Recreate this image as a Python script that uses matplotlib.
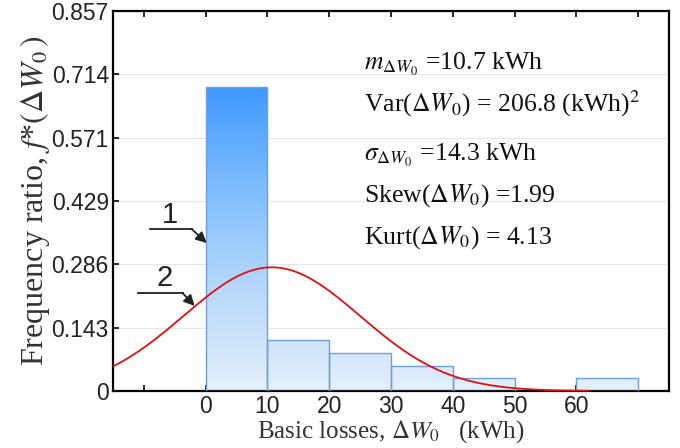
import numpy as np
import matplotlib
matplotlib.use("Agg")
import matplotlib.pyplot as plt
from matplotlib.colors import LinearSegmentedColormap

plt.rcParams['mathtext.fontset'] = 'stix'

# histogram data (bins of 10 kWh), frequency ratios
bin_left = [0, 10, 20, 30, 40, 50, 60]
freq = [0.686, 0.114, 0.086, 0.057, 0.029, 0.0, 0.029]
bin_w = 10

# fitted normal: mean and std dev from the stats block
m_dw = 10.7
sigma_dw = 14.3

yticks = [0, 0.143, 0.286, 0.429, 0.571, 0.714, 0.857]
ytick_lbl = ['0', '0.143', '0.286', '0.429', '0.571', '0.714', '0.857']
xticks = [-10, 0, 10, 20, 30, 40, 50, 60, 70]
xtick_lbl = ['', '0', '10', '20', '30', '40', '50', '60', '']

fig = plt.figure(figsize=(6.8, 4.48), dpi=100)
ax = fig.add_axes([113/680, 1 - 391/448, (669-113)/680, (391-11)/448])

cmap = LinearSegmentedColormap.from_list('bl', ['#e4f0fc', '#b6d8fb', '#7cbcff', '#3a95ff'])
grad = np.linspace(0, 1, 256).reshape(-1, 1)

for xl, h in zip(bin_left, freq):
    if h <= 0:
        continue
    rect = plt.Rectangle((xl, 0), bin_w, h, facecolor='none', edgecolor='#6f9fd6', lw=1.0, zorder=3)
    ax.add_patch(rect)
    im = ax.imshow(grad, extent=[-15, 75, 0, 0.7], origin='lower', cmap=cmap,
                   aspect='auto', zorder=2)
    im.set_clip_path(rect)

ax.set_xlim(-15, 75)
ax.set_ylim(0, 0.857)

xs = np.linspace(-15, 62, 300)
pdf = bin_w / (sigma_dw * np.sqrt(2 * np.pi)) * np.exp(-0.5 * ((xs - m_dw) / sigma_dw) ** 2)
ax.plot(xs, pdf, color='#e01010', lw=1.3, zorder=4)

ax.set_yticks(yticks)
ax.set_yticklabels(ytick_lbl)
ax.set_xticks(xticks)
ax.set_xticklabels(xtick_lbl)
ax.grid(axis='y', color='#e6e6e6', lw=0.8, zorder=0)
ax.set_axisbelow(True)
ax.tick_params(direction='in', top=True, right=False, length=4, width=1.2,
               labelsize=16.5, labelcolor='#222222', pad=3)
for lb in ax.get_xticklabels() + ax.get_yticklabels():
    lb.set_family('Liberation Sans')
for s in ax.spines.values():
    s.set_linewidth(1.6)

ax.set_xlabel(r'Basic losses, $\Delta W_0$   (kWh)', family='Liberation Serif',
              fontsize=18, color='#333333', labelpad=0)
ax.set_ylabel(r'Frequency ratio, $f$*$(\Delta W_0\,)$', family='Liberation Serif',
              fontsize=23, color='#333333', labelpad=0)

# statistics block
stats = [r'$m_{\Delta W_0}$ =10.7 kWh',
         r'Var($\Delta W_0$) = 206.8 (kWh)$^2$',
         r'$\sigma_{\Delta W_0}$ =14.3 kWh',
         r'Skew($\Delta W_0$) =1.99',
         r'Kurt($\Delta W_0$) = 4.13']
stat_y = [64, 104, 155, 196, 238]
for t, py in zip(stats, stat_y):
    fig.text(364/680, 1 - py/448, t, family='Liberation Serif', fontsize=18.5,
             va='center', ha='left', color='#111111')

# curve labels with leader arrows
def px(x, y):
    return ((x - 206) / 6.15, (391 - y) / 380 * 0.857)

for lab, tx, ty, x0, x1, yl, ex, ey in [('1', 170, 215, 151, 192, 229, 207, 243),
                                         ('2', 165, 278, 139, 183, 293, 195, 306)]:
    ax.text(*px(tx, ty), lab, family='Liberation Sans', fontsize=21, ha='center', va='center', color='#222222')
    a, b = px(x0, yl)
    c, d = px(x1, yl)
    ax.plot([a, c], [b, d], color='#222222', lw=1.3, zorder=5)
    ax.annotate('', xy=px(ex, ey), xytext=(c, d),
                arrowprops=dict(arrowstyle='-|>', color='#222222', lw=1.3,
                                mutation_scale=16, shrinkA=0, shrinkB=0), zorder=5)

fig.savefig('out.png', dpi=100)
